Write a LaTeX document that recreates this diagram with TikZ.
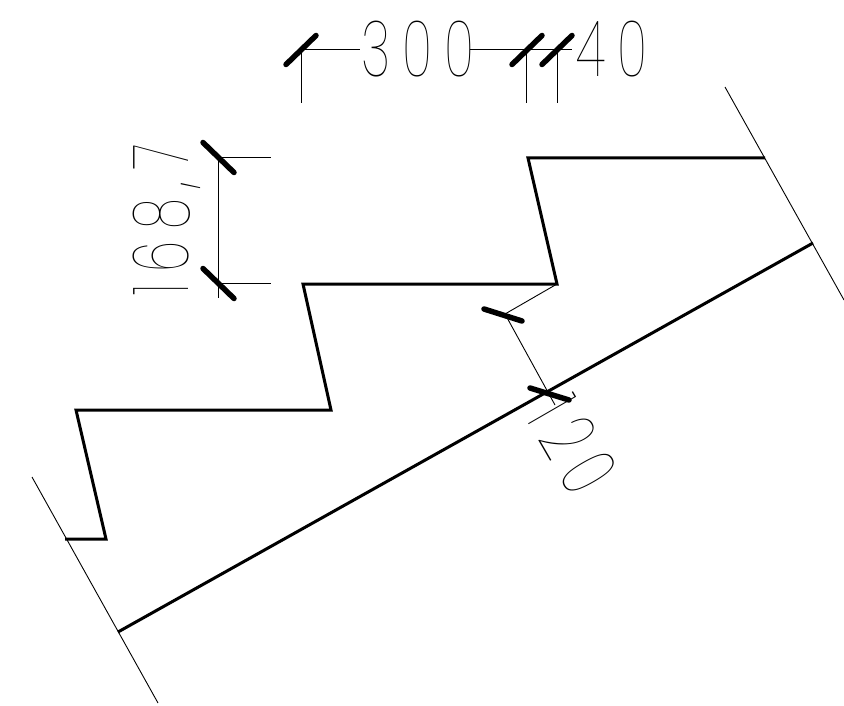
\documentclass[tikz,border=0pt]{standalone}
\usepackage{fontspec}
\newfontfamily\dimfont[UprightFont=* Thin]{Poppins}
\usetikzlibrary{calc, positioning}
\tikzset{
    wallline/.style={line width=3pt, line join=miter},
    thinline/.style={line width=0.9pt},
    dimtick/.style={line width=5.5pt, line cap=round},
    dimtext/.style={inner sep=0pt, xscale=0.65, font=\dimfont\addfontfeatures{LetterSpace=23}\fontsize{78}{78}\selectfont},
}
\begin{document}
\begin{tikzpicture}[x=1pt, y=-1pt]
    \useasboundingbox (0,0) rectangle (844,706);
    % Draw stairs and slab
    \draw[wallline] (65,539) -- (106,539) -- (76,410) -- (331,410) -- (303,284) -- (557,284) -- (528,158) -- (765,158);
    \draw[wallline] (118,632) -- (813,243);
    % Draw section ends
    \draw[thinline] (32,477) -- (158,703);
    \draw[thinline] (725,87) -- (844,300);
    % Draw top dimension
    \draw[thinline] (301,103) -- (301,49) -- (360,49);
    \draw[thinline] (470,49) -- (572,49);
    \foreach \x in {526,557} {
        \draw[thinline] (\x,103) -- (\x,49);
    }
    \foreach \x in {301,527,557} {
        \draw[dimtick] (\x-15,64.5) -- (\x+15,35.5);
    }
    \node[dimtext] (dimthree) at (418,49) {300};
    \node[dimtext] (dimforty) at (612,49) {40};
    % Draw left dimension
    \draw[thinline] (218,157) -- (218,298);
    \foreach \y in {157,283} {
        \draw[thinline] (218,\y) -- (271,\y);
        \draw[dimtick] (203,\y-14.5) -- (234,\y+15.5);
    }
    \node[rotate=90, dimtext] (dimrise) at (167,220) {168,7};
    % Draw slab thickness dimension
    \draw[thinline] (557,284) -- (505,314) -- (555,405);
    \draw[dimtick] (484,309) -- (522,321);
    \draw[dimtick] (530,388) -- (569,400);
    \node[rotate=-60, dimtext] (dimslab) at (573,445) {120};
\end{tikzpicture}
\end{document}
